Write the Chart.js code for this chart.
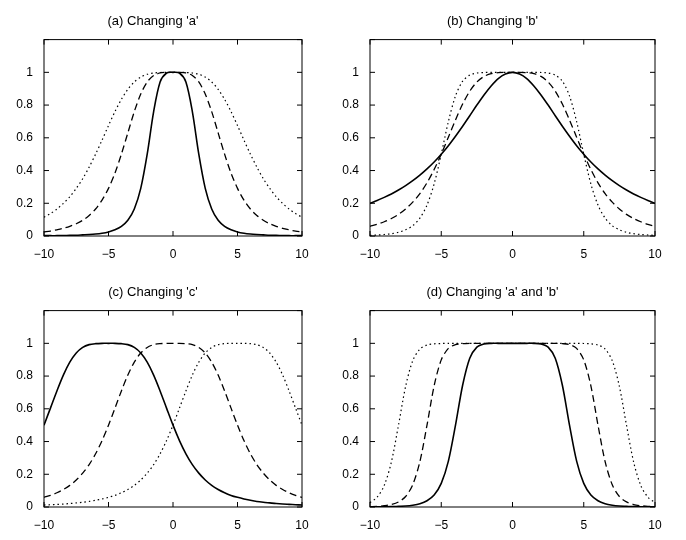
<!DOCTYPE html>
<html>
<head>
<meta charset="utf-8">
<script src="https://cdn.jsdelivr.net/npm/chart.js@4"></script>
<style>
  body { margin: 0; background: #fff; }
  .box { position: absolute; }
</style>
</head>
<body>
<div class="box" style="left:4px;top:10px;width:313px;height:251px"><canvas id="ca"></canvas></div>
<div class="box" style="left:330px;top:10px;width:340px;height:251px"><canvas id="cb"></canvas></div>
<div class="box" style="left:4px;top:281px;width:313px;height:251px"><canvas id="cc"></canvas></div>
<div class="box" style="left:330px;top:281px;width:340px;height:251px"><canvas id="cd"></canvas></div>
<script>
// x positions shared by every curve (-10 .. 10, step 0.5)
const xs = [-10,-9.5,-9,-8.5,-8,-7.5,-7,-6.5,-6,-5.5,-5,-4.5,-4,-3.5,-3,-2.5,-2,-1.5,-1,-0.5,0,
            0.5,1,1.5,2,2.5,3,3.5,4,4.5,5,5.5,6,6.5,7,7.5,8,8.5,9,9.5,10];
const xTicks = [-10, -5, 0, 5, 10];
const yTicks = [0, 0.2, 0.4, 0.6, 0.8, 1];

// (a) changing 'a'
const aSolid  = [.002,.002,.002,.003,.004,.005,.007,.009,.012,.017,.025,.038,.059,.096,.165,.291,.5,.760,.941,.996,1,
                 .996,.941,.760,.5,.291,.165,.096,.059,.038,.025,.017,.012,.009,.007,.005,.004,.003,.002,.002,.002];
const aDashed = [.025,.030,.038,.047,.059,.075,.096,.125,.165,.219,.291,.384,.5,.630,.760,.867,.941,.981,.996,1,1,
                 1,.996,.981,.941,.867,.760,.630,.5,.384,.291,.219,.165,.125,.096,.075,.059,.047,.038,.030,.025];
const aDotted = [.115,.137,.165,.199,.240,.291,.350,.421,.5,.586,.675,.760,.835,.896,.941,.971,.988,.996,.999,1,1,
                 1,.999,.996,.988,.971,.941,.896,.835,.760,.675,.586,.5,.421,.350,.291,.240,.199,.165,.137,.115];

// (b) changing 'b'
const bSolid  = [.2,.217,.236,.257,.281,.308,.338,.372,.410,.452,.5,.552,.610,.671,.735,.8,.862,.917,.962,.990,1,
                 .990,.962,.917,.862,.8,.735,.671,.610,.552,.5,.452,.410,.372,.338,.308,.281,.257,.236,.217,.2];
const bDashed = [.059,.071,.087,.107,.132,.165,.207,.259,.325,.406,.5,.604,.709,.806,.885,.941,.975,.992,.998,1,1,
                 1,.998,.992,.975,.941,.885,.806,.709,.604,.5,.406,.325,.259,.207,.165,.132,.107,.087,.071,.059];
const bDotted = [.004,.006,.009,.014,.023,.038,.063,.109,.189,.318,.5,.699,.856,.946,.983,.996,.999,1,1,1,1,
                 1,1,1,.999,.996,.983,.946,.856,.699,.5,.318,.189,.109,.063,.038,.023,.014,.009,.006,.004];

// (c) changing 'c'
const cSolid  = [.5,.604,.709,.806,.885,.941,.975,.992,.998,1,1,1,.998,.992,.975,.941,.885,.806,.709,.604,.5,
                 .406,.325,.259,.207,.165,.132,.107,.087,.071,.059,.049,.041,.034,.029,.025,.021,.018,.016,.014,.012];
const cDashed = bDashed;
const cDotted = [.012,.014,.016,.018,.021,.025,.029,.034,.041,.049,.059,.071,.087,.107,.132,.165,.207,.259,.325,.406,.5,
                 .604,.709,.806,.885,.941,.975,.992,.998,1,1,1,.998,.992,.975,.941,.885,.806,.709,.604,.5];

// (d) changing 'a' and 'b'
const dSolid  = [.001,.001,.001,.002,.004,.006,.011,.020,.038,.073,.144,.280,.5,.744,.909,.977,.996,1,1,1,1,
                 1,1,1,.996,.977,.909,.744,.5,.280,.144,.073,.038,.020,.011,.006,.004,.002,.001,.001,.001];
const dDashed = [.002,.004,.008,.015,.031,.064,.136,.277,.5,.740,.899,.969,.992,.998,1,1,1,1,1,1,1,
                 1,1,1,1,1,1,.998,.992,.969,.899,.740,.5,.277,.136,.064,.031,.015,.008,.004,.002];
const dDotted = [.027,.060,.132,.275,.5,.737,.894,.965,.990,.997,.999,1,1,1,1,1,1,1,1,1,1,
                 1,1,1,1,1,1,1,1,1,.999,.997,.990,.965,.894,.737,.5,.275,.132,.060,.027];

const fmt = v => (v < 0 ? '\u2212' + Math.abs(v) : String(v));

// frame box + inward ticks
const frame = {
  id: 'frame',
  afterDraw(chart) {
    const { ctx, chartArea: a, scales } = chart;
    ctx.save();
    ctx.strokeStyle = '#000';
    ctx.lineWidth = 1;
    ctx.strokeRect(a.left, a.top, a.right - a.left, a.bottom - a.top);
    ctx.beginPath();
    xTicks.forEach(v => {
      const p = scales.x.getPixelForValue(v);
      ctx.moveTo(p, a.bottom); ctx.lineTo(p, a.bottom - 5);
      ctx.moveTo(p, a.top); ctx.lineTo(p, a.top + 5);
    });
    yTicks.concat([1.2]).forEach(v => {
      const p = scales.y.getPixelForValue(v);
      ctx.moveTo(a.left, p); ctx.lineTo(a.left + 5, p);
      ctx.moveTo(a.right, p); ctx.lineTo(a.right - 5, p);
    });
    ctx.stroke();
    ctx.restore();
  }
};

function makeChart(id, title, solid, dashed, dotted) {
  const pts = arr => arr.map((y, i) => ({ x: xs[i], y: y }));
  const line = (arr, dash, w) => ({
    data: pts(arr), borderColor: '#000', borderWidth: w, borderDash: dash,
    pointRadius: 0, tension: 0.3, fill: false
  });
  new Chart(document.getElementById(id), {
    type: 'line',
    data: { datasets: [line(solid, [], 1.6), line(dashed, [7, 4], 1.3), line(dotted, [1.5, 3], 1.2)] },
    options: {
      animation: false, responsive: true, maintainAspectRatio: false,
      layout: { padding: { right: 15 } },
      plugins: {
        legend: { display: false }, tooltip: { enabled: false },
        title: { display: true, text: title, color: '#000',
                 font: { family: 'Liberation Sans, Arial', size: 13, weight: 'normal' }, padding: { top: 4, bottom: 10 } }
      },
      scales: {
        x: {
          type: 'linear', min: -10, max: 10,
          afterFit: s => { s.height = 25; },
          afterBuildTicks: s => { s.ticks = xTicks.map(v => ({ value: v })); },
          grid: { display: false }, border: { display: false },
          ticks: { color: '#000', font: { family: 'Liberation Sans, Arial', size: 12 }, callback: fmt, maxRotation: 0 }
        },
        y: {
          min: 0, max: 1.2,
          afterFit: s => { s.width = 40; },
          afterBuildTicks: s => { s.ticks = yTicks.map(v => ({ value: v })); },
          grid: { display: false }, border: { display: false },
          ticks: { color: '#000', font: { family: 'Liberation Sans, Arial', size: 12 }, callback: v => String(Math.round(v * 10) / 10) }
        }
      }
    },
    plugins: [frame]
  });
}

makeChart('ca', "(a) Changing 'a'", aSolid, aDashed, aDotted);
makeChart('cb', "(b) Changing 'b'", bSolid, bDashed, bDotted);
makeChart('cc', "(c) Changing 'c'", cSolid, cDashed, cDotted);
makeChart('cd', "(d) Changing 'a' and 'b'", dSolid, dDashed, dDotted);
</script>
</body>
</html>
